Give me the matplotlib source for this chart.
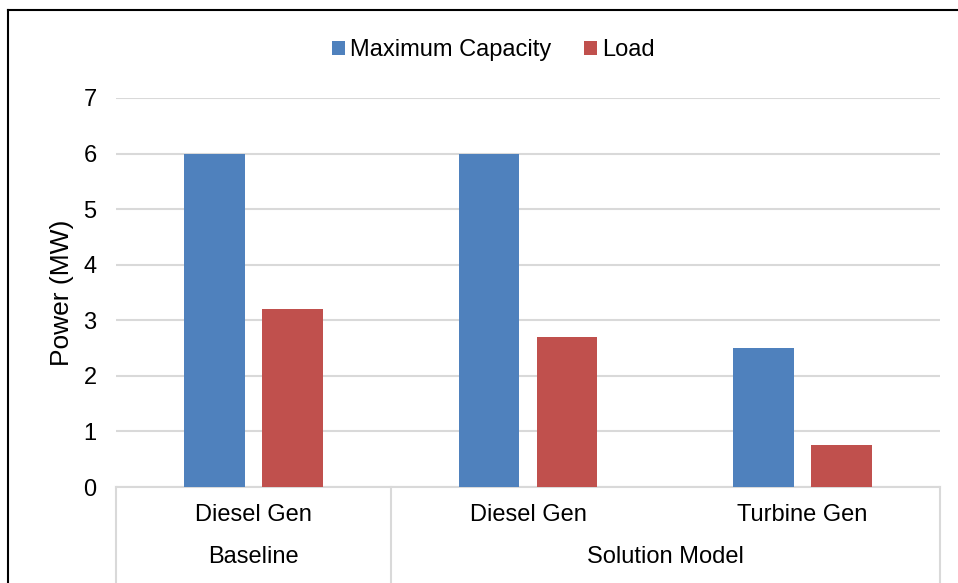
import matplotlib
matplotlib.use("Agg")
import matplotlib.pyplot as plt
from matplotlib.patches import Patch
from matplotlib.lines import Line2D
import matplotlib.transforms as mtransforms

plt.rcParams['font.family'] = ['Liberation Sans', 'DejaVu Sans']

categories = ["Diesel Gen", "Diesel Gen", "Turbine Gen"]
groups = ["Baseline", "Solution Model"]
group_spans = [(0, 0), (1, 2)]
max_capacity = [6.0, 6.0, 2.5]
load = [3.2, 2.7, 0.75]
series_names = ["Maximum Capacity", "Load"]
yticks = [0, 1, 2, 3, 4, 5, 6, 7]

blue = "#4F81BD"
red = "#C0504D"
grid_c = "#D9D9D9"

W, H = 958, 583
fig = plt.figure(figsize=(W / 100, H / 100), dpi=100)
ax = fig.add_axes([116 / W, 1 - 487 / H, (940 - 116) / W, (487 - 98) / H])

x = list(range(len(categories)))
bw = 0.222
off = 0.142
ax.bar([i - off for i in x], max_capacity, width=bw, color=blue, zorder=3)
ax.bar([i + off for i in x], load, width=bw, color=red, zorder=3)

ax.set_xlim(-0.5, len(categories) - 0.5)
ax.set_ylim(0, 7)
ax.set_yticks(yticks)
ax.set_yticklabels([str(t) for t in yticks])
ax.tick_params(axis='y', length=0, pad=14, labelsize=17)
ax.set_xticks([])
ax.yaxis.grid(True, color=grid_c, linewidth=1.5, zorder=0)
for s in ['top', 'right', 'left']:
    ax.spines[s].set_visible(False)
ax.spines['bottom'].set_color(grid_c)
ax.spines['bottom'].set_linewidth(1.5)
ax.set_ylabel("Power (MW)", fontsize=19, labelpad=7)

trans = mtransforms.blended_transform_factory(ax.transData, fig.transFigure)
for i, c in enumerate(categories):
    ax.text(i, 1 - 515 / H, c, transform=trans, ha='center', va='center', fontsize=17)
for g, (a, b) in zip(groups, group_spans):
    ax.text((a + b) / 2, 1 - 557 / H, g, transform=trans, ha='center', va='center', fontsize=17)

# separators
bottom_y = 1 - 487 / H
for xs in [-0.5, 0.5, 2.5]:
    ax.add_line(Line2D([xs, xs], [bottom_y, 0], transform=trans, color=grid_c,
                       linewidth=1.5, clip_on=False))

handles = [Patch(facecolor=blue, label=series_names[0]),
           Patch(facecolor=red, label=series_names[1])]
fig.legend(handles=handles, loc='center', bbox_to_anchor=(0.515, 1 - 50 / H), ncol=2,
           frameon=False, fontsize=17, handlelength=0.55, handleheight=0.55,
           handletextpad=0.2, columnspacing=1.4)

# outer border (left and top)
fig.add_artist(Line2D([8 / W, 8 / W], [0, 1 - 10 / H], transform=fig.transFigure,
                      color='black', linewidth=1.5))
fig.add_artist(Line2D([8 / W, 1], [1 - 10 / H, 1 - 10 / H], transform=fig.transFigure,
                      color='black', linewidth=1.5))

fig.savefig("out.png", dpi=100)
